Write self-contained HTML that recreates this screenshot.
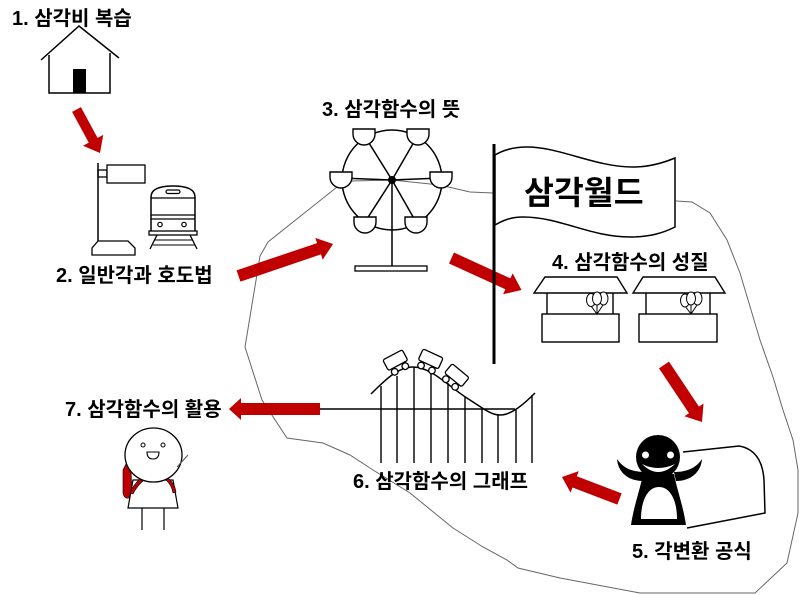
<!DOCTYPE html>
<html>
<head>
<meta charset="utf-8">
<style>
html,body{margin:0;padding:0;background:#fff;}
svg{display:block;}
.lbl{font-family:"Liberation Sans","Noto Sans CJK KR",sans-serif;font-weight:bold;font-size:20px;fill:#000;}
</style>
</head>
<body>
<svg width="800" height="595" viewBox="0 0 800 595" xmlns="http://www.w3.org/2000/svg">
<rect width="800" height="595" fill="#fff"/>

<!-- boundary -->
<path d="M493,193 L470,192 L440,185 L392,180 L352,181 L337,187 L268,242 L260,256 L245,347 L262,400 L287,438 L323,443 L350,455 L373,470 L410,493 L437,515 L453,528 L483,547 L507,560 L518,568 L560,578 L640,593 L755,593 L787,563 L798,513 L798,470 L793,440 L783,410 L773,377 L760,340 L740,273 L727,240 L710,213 L692,202 L676,201" fill="none" stroke="#666" stroke-width="1"/>

<!-- 1. house -->
<text class="lbl" x="12" y="25">1. 삼각비 복습</text>
<polyline points="41,60 79,26 119,58" fill="none" stroke="#000" stroke-width="1.5"/>
<polyline points="49,55 49,93 110,93 110,53" fill="none" stroke="#000" stroke-width="1.5"/>
<rect x="73" y="69" width="13" height="24" fill="#000"/>

<!-- arrow 1 -->
<g transform="translate(76.5,109.5) rotate(61.6)"><polygon points="0,-5 35,-5 35,-11.5 49.4,0 35,11.5 35,5 0,5" fill="#C00000"/></g>

<!-- 2. signal + train -->
<line x1="98" y1="163" x2="98" y2="241" stroke="#000" stroke-width="1.5"/>
<rect x="98" y="170" width="9" height="7" fill="none" stroke="#000" stroke-width="1.3"/>
<rect x="107" y="165" width="38" height="18" fill="#fff" stroke="#000" stroke-width="1.3"/>
<polygon points="98,241 128,241 135,248 135,255 92,255 92,248" fill="#fff" stroke="#000" stroke-width="1.3"/>
<path d="M151,231 L151,197 Q151,186 173,186 Q195,186 195,197 L195,231" fill="none" stroke="#000" stroke-width="1.5"/>
<line x1="151" y1="198" x2="195" y2="198" stroke="#000" stroke-width="1.3"/>
<line x1="151" y1="215" x2="195" y2="215" stroke="#000" stroke-width="1.3"/>
<line x1="151" y1="219" x2="195" y2="219" stroke="#000" stroke-width="1.3"/>
<rect x="166" y="190" width="14" height="3.5" rx="1.7" fill="none" stroke="#000" stroke-width="1.2"/>
<circle cx="160" cy="224.5" r="2.2" fill="none" stroke="#000" stroke-width="1.2"/>
<circle cx="184" cy="224.5" r="2.2" fill="none" stroke="#000" stroke-width="1.2"/>
<rect x="149" y="231" width="48" height="4" fill="none" stroke="#000" stroke-width="1.3"/>
<line x1="157" y1="235" x2="150" y2="249" stroke="#000" stroke-width="1.3"/>
<line x1="190" y1="235" x2="197" y2="249" stroke="#000" stroke-width="1.3"/>
<line x1="155" y1="240" x2="193" y2="240" stroke="#000" stroke-width="1"/>
<line x1="153" y1="245" x2="195" y2="245" stroke="#000" stroke-width="1"/>
<text class="lbl" x="56" y="282">2. 일반각과 호도법</text>

<!-- arrow 2 -->
<g transform="translate(238.5,276) rotate(-18.7)"><polygon points="0,-6 85,-6 85,-11.5 99.8,0 85,11.5 85,6 0,6" fill="#C00000"/></g>

<!-- 3. ferris wheel -->
<text class="lbl" x="322" y="116">3. 삼각함수의 뜻</text>
<circle cx="392" cy="180" r="50" fill="none" stroke="#000" stroke-width="1.5"/>
<g stroke="#000" stroke-width="1.5">
<line x1="392" y1="180" x2="364" y2="135"/>
<line x1="392" y1="180" x2="418" y2="135"/>
<line x1="392" y1="180" x2="341" y2="178"/>
<line x1="392" y1="180" x2="441" y2="178"/>
<line x1="392" y1="180" x2="365" y2="222"/>
<line x1="392" y1="180" x2="416" y2="222"/>
<line x1="392" y1="180" x2="392" y2="266"/>
</g>
<g fill="#fff" stroke="#000" stroke-width="1.4">
<path d="M353,129 L375,129 L375,134 A11,11 0 0 1 353,134 Z"/>
<path d="M407,129 L429,129 L429,134 A11,11 0 0 1 407,134 Z"/>
<path d="M330,172 L352,172 L352,177 A11,11 0 0 1 330,177 Z"/>
<path d="M430,172 L452,172 L452,177 A11,11 0 0 1 430,177 Z"/>
<path d="M354,217 L376,217 L376,222 A11,11 0 0 1 354,222 Z"/>
<path d="M405,217 L427,217 L427,222 A11,11 0 0 1 405,222 Z"/>
</g>
<circle cx="392" cy="180" r="4" fill="#000"/>
<rect x="355" y="266" width="72" height="5" fill="#fff" stroke="#000" stroke-width="1.3"/>

<!-- arrow 3 -->
<g transform="translate(451.5,258) rotate(24.6)"><polygon points="0,-6 62,-6 62,-11.5 77,0 62,11.5 62,6 0,6" fill="#C00000"/></g>

<!-- flag -->
<path d="M495,155 C505,149 515,147 527,147 C560,147 595,167 633,167 C650,167 663,163 675,158 L675,227 C663,233 650,237 630,237 C590,237 560,217 523,217 C510,217 502,221 495,225 Z" fill="#fff" stroke="#000" stroke-width="1.5"/>
<line x1="494" y1="144" x2="494" y2="364" stroke="#000" stroke-width="3"/>
<text x="524" y="204" style="font-family:'Liberation Sans','Noto Sans CJK KR',sans-serif;font-weight:bold;font-size:32.5px;">삼각월드</text>

<!-- 4. stalls -->
<text class="lbl" x="552" y="269">4. 삼각함수의 성질</text>
<g fill="#fff" stroke="#000" stroke-width="1.4">
<polygon points="545,277 617,277 627,293 534,293"/>
<polygon points="643,277 715,277 725,293 633,293"/>
<rect x="542" y="314" width="77" height="28"/>
<rect x="639" y="314" width="78" height="28"/>
</g>
<g stroke="#000" stroke-width="1.4">
<line x1="547" y1="293" x2="547" y2="314"/>
<line x1="613" y1="293" x2="613" y2="314"/>
<line x1="646" y1="293" x2="646" y2="314"/>
<line x1="710" y1="293" x2="710" y2="314"/>
</g>
<g fill="#fff" stroke="#000" stroke-width="1">
<line x1="591" y1="306" x2="597" y2="314"/><line x1="597" y1="305" x2="597" y2="314"/><line x1="603" y1="305" x2="597" y2="314"/>
<ellipse cx="591" cy="300" rx="4.5" ry="6.5"/><ellipse cx="603.5" cy="298.5" rx="4.5" ry="6.5"/><ellipse cx="597" cy="298.5" rx="4.5" ry="6.5"/>
<line x1="685" y1="306" x2="691" y2="314"/><line x1="691" y1="305" x2="691" y2="314"/><line x1="697" y1="305" x2="691" y2="314"/>
<ellipse cx="685" cy="300.5" rx="4.5" ry="6.5"/><ellipse cx="697.5" cy="298.5" rx="4.5" ry="6.5"/><ellipse cx="691" cy="298.5" rx="4.5" ry="6.5"/>
</g>

<!-- arrow 4 -->
<g transform="translate(664,365) rotate(56.3)"><polygon points="0,-6 54,-6 54,-11.5 68.5,0 54,11.5 54,6 0,6" fill="#C00000"/></g>

<!-- 5. tunnel + character -->
<path d="M683,452 L739,446 Q762,450 764,480 L765,513 L687,528" fill="#fff" stroke="#000" stroke-width="1.5"/>
<path d="M643,474 C640,490 634,505 631,525 L686,525 C683,505 677,490 674,474 Z" fill="#000"/>
<path d="M641,519 C641,500 648,487 659,487 C670,487 677,500 677,519 Z" fill="#fff"/>
<path d="M617,459 C618,472 628,481 643,481 L645,472 C632,472 623,468 617,459 Z" fill="#000"/>
<path d="M702,459 C701,472 691,481 676,481 L674,472 C687,472 696,468 702,459 Z" fill="#000"/>
<circle cx="658" cy="457" r="22" fill="#000"/>
<circle cx="645.5" cy="455" r="3.5" fill="#fff"/>
<circle cx="670.5" cy="455" r="3.5" fill="#fff"/>
<path d="M642,464 Q658,480 675,464 Q658,472 642,464 Z" fill="#fff"/>
<text class="lbl" x="632" y="558">5. 각변환 공식</text>

<!-- arrow 5 -->
<g transform="translate(619.5,499) rotate(200.9)"><polygon points="0,-6 48,-6 48,-11.5 61.6,0 48,11.5 48,6 0,6" fill="#C00000"/></g>

<!-- 6. roller coaster -->
<g stroke="#000" stroke-width="1.4">
<line x1="381" y1="386" x2="381" y2="463"/>
<line x1="397" y1="376" x2="397" y2="463"/>
<line x1="414" y1="367" x2="414" y2="463"/>
<line x1="431" y1="371" x2="431" y2="463"/>
<line x1="448" y1="383" x2="448" y2="463"/>
<line x1="465" y1="397" x2="465" y2="463"/>
<line x1="482" y1="409" x2="482" y2="463"/>
<line x1="498" y1="415" x2="498" y2="463"/>
<line x1="516" y1="409" x2="516" y2="463"/>
<line x1="532" y1="395" x2="532" y2="463"/>
<line x1="320" y1="409" x2="515" y2="409"/>
</g>
<path d="M371,394 C385,380 398,367 413,367 C432,367 450,388 470,400 C485,410 492,415 500,415 C512,415 525,403 535,393" fill="none" stroke="#000" stroke-width="1.5"/>
<g fill="#fff" stroke="#000" stroke-width="1.3">
<g transform="translate(400,369) rotate(-28)"><rect x="-11" y="-16" width="22" height="12" rx="2"/><circle cx="-6" cy="0" r="3.3"/><circle cx="6" cy="0" r="3.3"/></g>
<g transform="translate(426.5,368) rotate(24.8)"><rect x="-11" y="-16" width="22" height="12" rx="2"/><circle cx="-6" cy="0" r="3.3"/><circle cx="6" cy="0" r="3.3"/></g>
<g transform="translate(450.5,383) rotate(39.4)"><rect x="-11" y="-16" width="22" height="12" rx="2"/><circle cx="-6" cy="0" r="3.3"/><circle cx="6" cy="0" r="3.3"/></g>
</g>
<text class="lbl" x="353" y="488">6. 삼각함수의 그래프</text>

<!-- arrow 6 -->
<polygon points="320,403 241,403 241,398 229,409 241,420 241,415 320,415" fill="#C00000"/>

<!-- 7. person -->
<text class="lbl" x="65" y="416">7. 삼각함수의 활용</text>
<path d="M127,462 L123,470 L123,493 Q124,499 129,498 L132,492 L131,470 Z" fill="#C00000" stroke="#000" stroke-width="0.6"/>
<polygon points="133,480 173,480 178,508 128,508" fill="#fff" stroke="#000" stroke-width="1.2"/>
<path d="M140,479 Q133,485 130,493 L133,494 Q137,486 143,481 Z" fill="#C00000" stroke="#000" stroke-width="0.6"/>
<path d="M165,479 Q172,485 173,493 L176,492 Q175,484 168,478 Z" fill="#C00000" stroke="#000" stroke-width="0.6"/>
<ellipse cx="153.5" cy="455" rx="28.5" ry="27" fill="#fff" stroke="#000" stroke-width="1.3"/>
<circle cx="143" cy="445" r="2" fill="none" stroke="#000" stroke-width="1"/>
<circle cx="163" cy="445" r="2" fill="none" stroke="#000" stroke-width="1"/>
<path d="M147,452 L159,452 Q159,459 153,459 Q147,459 147,452 Z" fill="#fff" stroke="#000" stroke-width="1.1"/>
<line x1="177" y1="467" x2="188" y2="455" stroke="#555" stroke-width="1"/>
<line x1="142" y1="508" x2="142" y2="530" stroke="#000" stroke-width="1.2"/>
<line x1="164" y1="508" x2="164" y2="530" stroke="#000" stroke-width="1.2"/>
</svg>
</body>
</html>
